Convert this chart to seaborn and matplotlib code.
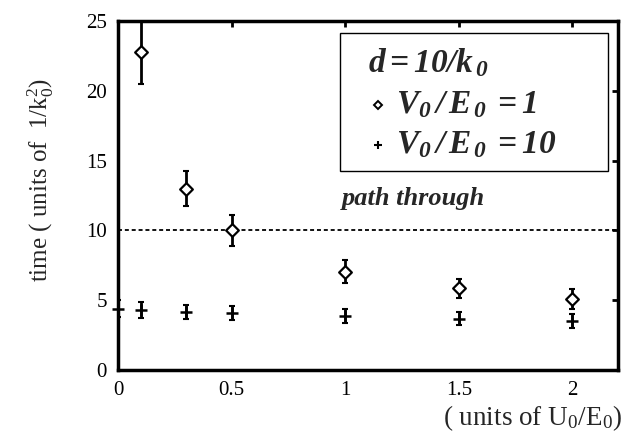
import matplotlib
matplotlib.use("Agg")
import matplotlib.pyplot as plt
from matplotlib.patches import Rectangle
import seaborn as sns
import pandas as pd

# Tunnelling time versus barrier parameter, d = 10/k0
x_v1 = [0.1, 0.3, 0.5, 1.0, 1.5, 2.0]
t_v1 = [22.8, 13.0, 10.0, 7.05, 5.85, 5.1]
err_v1 = [2.3, 1.25, 1.1, 0.8, 0.7, 0.7]

x_v10 = [0.0, 0.1, 0.3, 0.5, 1.0, 1.5, 2.0]
t_v10 = [4.4, 4.3, 4.15, 4.08, 3.85, 3.68, 3.5]
err_v10 = [0.6, 0.55, 0.5, 0.5, 0.5, 0.45, 0.5]

path_through = 10.0
x_ticks = [0, 0.5, 1, 1.5, 2]
x_ticklabels = ["0", "0.5", "1", "1.5", "2"]
y_ticks = [0, 5, 10, 15, 20, 25]

sns.set_theme(style="white")
plt.rcParams["font.family"] = ["Liberation Serif", "DejaVu Serif"]
plt.rcParams["mathtext.fontset"] = "custom"
plt.rcParams["mathtext.rm"] = "Liberation Serif"
plt.rcParams["mathtext.it"] = "Liberation Serif:italic"
plt.rcParams["mathtext.bf"] = "Liberation Serif:bold:italic"

df1 = pd.DataFrame({"x": x_v1, "t": t_v1})
df10 = pd.DataFrame({"x": x_v10, "t": t_v10})

fig = plt.figure(figsize=(6.33, 4.36), dpi=100)
ax = fig.add_axes([0.1864, 0.1514, 0.7896, 0.8004])

ax.axhline(path_through, color="black", lw=1.3, ls=(0, (2.2, 1.6)), zorder=1)

ax.errorbar(x_v1, t_v1, yerr=err_v1, fmt="none", ecolor="black",
            elinewidth=2.0, capsize=2.0, capthick=1.5, zorder=2)
ax.errorbar(x_v10, t_v10, yerr=err_v10, fmt="none", ecolor="black",
            elinewidth=2.0, capsize=2.0, capthick=1.5, zorder=2)

sns.scatterplot(data=df1, x="x", y="t", marker="D", s=42, facecolor="white",
                edgecolor="black", linewidth=1.6, ax=ax, zorder=3, clip_on=False)
sns.scatterplot(data=df10, x="x", y="t", marker="+", s=70, color="black",
                linewidth=1.8, ax=ax, zorder=3, clip_on=False)

ax.set_xlim(0, 2.2)
ax.set_ylim(0, 25)
ax.set_xticks(x_ticks)
ax.set_xticklabels(x_ticklabels)
ax.set_yticks(y_ticks)
ax.tick_params(direction="in", length=4, width=2.0, labelsize=15,
               top=True, right=True, pad=8, colors="black")
for s in ax.spines.values():
    s.set_linewidth(2.5)
    s.set_color("black")

ax.set_xlabel("")
ax.set_ylabel(r"time ( units of  1/k$_0^2$)", fontsize=18)
ax.yaxis.set_label_coords(-0.125, 0.544)

fig.text(0.982, 0.025, r"( units of U$_0$/E$_0$)", ha="right", va="baseline",
         fontsize=19.5)

ax.text(1.30, 11.8, "path through", ha="center", va="baseline", fontsize=19,
        fontweight="bold", style="italic")

# key box with the parameter and the two series
tr = ax.transAxes
ax.add_patch(Rectangle((0.444, 0.570), 0.536, 0.3956, transform=tr,
                       facecolor="white", edgecolor="black", lw=1.0, zorder=4))
ax.text(0.50, 0.88, r"$\mathbf{d=10/k_{\,0}}$", transform=tr, fontsize=24,
        ha="left", va="center", zorder=5)
ax.plot([0.52], [0.759], transform=tr, ls="none", marker="D", ms=4.5,
        mfc="white", mec="black", mew=1.4, zorder=5)
ax.text(0.556, 0.759, r"$\mathbf{V_0\,/\,E_{\,0}\;=1}$", transform=tr,
        fontsize=24, ha="left", va="center", zorder=5)
ax.plot([0.52], [0.645], transform=tr, ls="none", marker="+", ms=6,
        color="black", mew=1.5, zorder=5)
ax.text(0.556, 0.645, r"$\mathbf{V_0\,/\,E_{\,0}\;=10}$", transform=tr,
        fontsize=24, ha="left", va="center", zorder=5)

fig.savefig("out.png", dpi=100)
